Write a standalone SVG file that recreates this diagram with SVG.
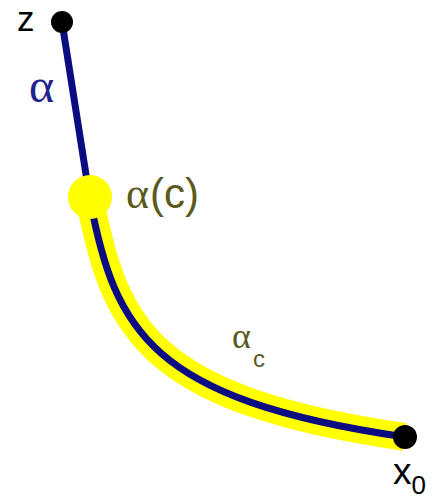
<svg xmlns="http://www.w3.org/2000/svg" width="442" height="501" viewBox="0 0 442 501">
<style>
.sans{font-family:"Liberation Sans","DejaVu Sans",sans-serif}
.serif{font-family:"Liberation Serif","DejaVu Serif",serif}
.olive{fill:#5b5a1d}
.curve{fill:none;stroke:#0b0b82;stroke-width:7;stroke-linecap:round;stroke-linejoin:round}
.hl{fill:none;stroke:#ffff00;stroke-width:28;stroke-linecap:butt;stroke-linejoin:round}
.pt{fill:#000}
</style>
<rect width="442" height="501" fill="#fff"/>
<g id="connectors">
<path id="alpha-c-highlight" class="hl" d="M90,200 C115,330 150,400 405,437"/>
<path id="alpha" class="curve" d="M62,22 L90,200 C115,330 150,400 405,437"/>
</g>
<g id="node-alpha-c">
<circle cx="90" cy="197" r="22" fill="#ffff00"/>
<text x="126" y="208" font-size="44" class="olive"><tspan class="serif">α</tspan><tspan class="sans" font-size="42" dx="1">(c)</tspan></text>
</g>
<g id="node-z">
<circle class="pt" cx="62" cy="22" r="11"/>
<text class="sans" x="17" y="31" font-size="35" fill="#000">z</text>
</g>
<g id="node-x0">
<circle class="pt" cx="405" cy="437" r="12"/>
<text class="sans" x="393" y="484" font-size="37" fill="#000">x<tspan font-size="26" dy="10">0</tspan></text>
</g>
<g id="label-alpha">
<text class="serif" x="29" y="102" font-size="48" fill="#22228f">α</text>
</g>
<g id="label-alpha-sub-c">
<text class="serif olive" x="232" y="348" font-size="36">α<tspan class="sans" font-size="24" dy="19" dx="2">c</tspan></text>
</g>
</svg>
